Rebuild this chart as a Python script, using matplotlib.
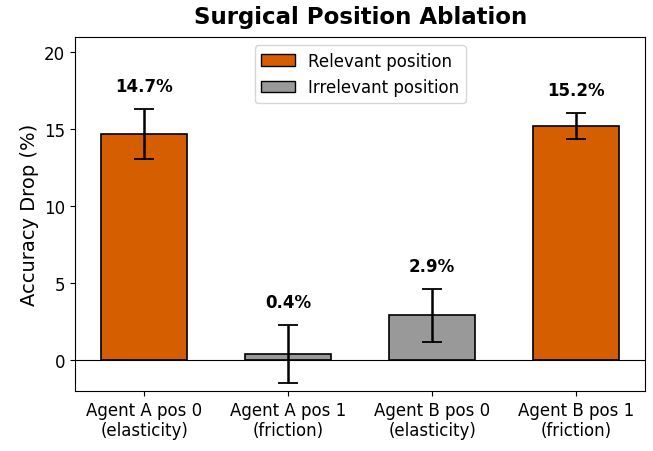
# surgical position ablation bar chart
import matplotlib
matplotlib.use("Agg")
import matplotlib.pyplot as plt
from matplotlib.patches import Patch

labels = ["Agent A pos 0\n(elasticity)", "Agent A pos 1\n(friction)",
          "Agent B pos 0\n(elasticity)", "Agent B pos 1\n(friction)"]
drops = [14.7, 0.4, 2.9, 15.2]
errors = [1.6, 1.9, 1.7, 0.85]
relevant = [True, False, False, True]

colors = ["#D55E00" if r else "#999999" for r in relevant]

fig = plt.figure(figsize=(6.53, 4.52), dpi=100)
ax = fig.add_axes([0.115, 0.133, 0.873, 0.783])

x = range(len(labels))
ax.bar(x, drops, width=0.6, color=colors, edgecolor="black", linewidth=1.2,
       yerr=errors, capsize=7.5, error_kw=dict(elinewidth=1.8, capthick=1.3, ecolor="black"))

for i, (d, e) in enumerate(zip(drops, errors)):
    ax.text(i, d + e + 0.9, f"{d}%", ha="center", va="bottom",
            fontsize=12, fontweight="bold")

ax.axhline(0, color="black", linewidth=0.8)

# legend handles
handles = [Patch(facecolor="#D55E00", edgecolor="black", label="Relevant position"),
           Patch(facecolor="#999999", edgecolor="black", label="Irrelevant position")]
ax.legend(handles=handles, loc="upper center", fontsize=12)

ax.set_xticks(list(x))
ax.set_xticklabels(labels, fontsize=12)
ax.tick_params(axis="y", labelsize=12)
ax.set_ylim(-2, 21)
ax.set_ylabel("Accuracy Drop (%)", fontsize=14)
ax.set_title("Surgical Position Ablation", fontsize=16.5, fontweight="bold", pad=10)

fig.savefig("out.png", dpi=100)
